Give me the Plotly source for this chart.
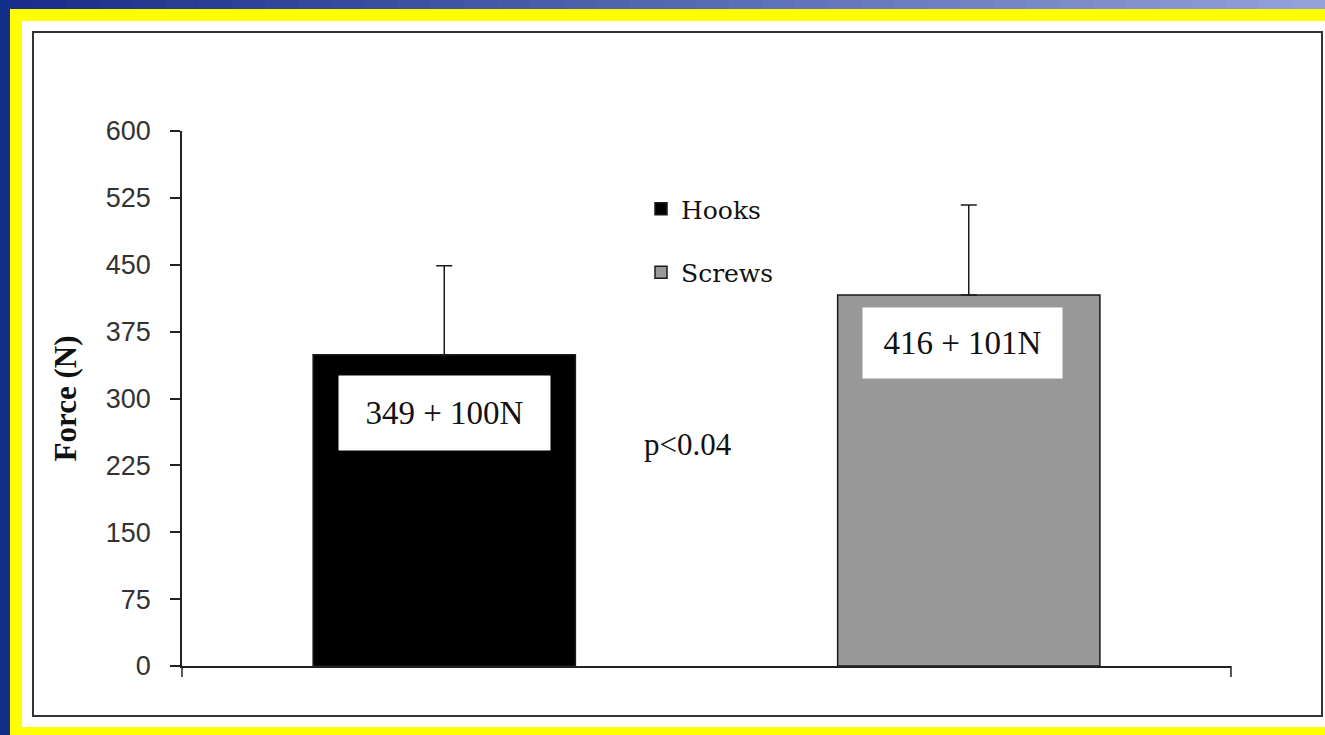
import plotly.graph_objects as go

categories = ["Hooks", "Screws"]
force_mean = [349, 416]
force_sd = [100, 101]
bar_colors = ["#000000", "#999999"]
y_ticks = [0, 75, 150, 225, 300, 375, 450, 525, 600]
p_text = "p<0.04"

W, H = 1325, 735
L, R, T, B = 182, 1231, 131, 666  # plot area pixels


def px(x):
    return (x - L) / (R - L)


def py(y):
    return (B - y) / (B - T)


fig = go.Figure()
for cat, m, sd, col in zip(categories, force_mean, force_sd, bar_colors):
    fig.add_trace(go.Bar(
        x=[cat], y=[m], name=cat, width=0.5,
        marker=dict(color=col, line=dict(color="#1a1a1a", width=1.5)),
        error_y=dict(type="data", array=[sd], arrayminus=[0], symmetric=False,
                     color="#1a1a1a", thickness=1.5, width=8),
        legendgroup=cat,
    ))

shapes = []
# blue gradient top band
c0 = (24, 46, 138)
c1 = (146, 161, 216)
n = 40
for i in range(n):
    t = i / (n - 1)
    col = tuple(int(c0[k] + (c1[k] - c0[k]) * t) for k in range(3))
    x0 = i * W / n
    x1 = (i + 1) * W / n + 1
    shapes.append(dict(type="rect", xref="paper", yref="paper", x0=px(x0), x1=px(x1),
                       y0=py(0), y1=py(9.5), line=dict(width=0),
                       fillcolor="rgb(%d,%d,%d)" % col, layer="below"))
# left blue band
shapes.append(dict(type="rect", xref="paper", yref="paper", x0=px(0), x1=px(10.5),
                   y0=py(0), y1=py(H), line=dict(width=0), fillcolor="#12308a", layer="below"))
# yellow border
shapes.append(dict(type="rect", xref="paper", yref="paper", x0=px(10), x1=px(W + 2),
                   y0=py(9), y1=py(H + 2), line=dict(width=0), fillcolor="#ffff00", layer="below"))
# white panel
shapes.append(dict(type="rect", xref="paper", yref="paper", x0=px(22), x1=px(W + 2),
                   y0=py(21), y1=py(727), line=dict(width=0), fillcolor="#ffffff", layer="below"))
# chart frame
shapes.append(dict(type="rect", xref="paper", yref="paper", x0=px(33), x1=px(1322),
                   y0=py(32), y1=py(716), line=dict(width=2, color="#333333"),
                   fillcolor="rgba(0,0,0,0)", layer="below"))
# x-axis end ticks
for xe in (0, 1):
    shapes.append(dict(type="line", xref="paper", yref="paper", x0=xe, x1=xe,
                       y0=0, y1=py(B + 11), line=dict(width=1.5, color="#222222")))

annotations = []
box_w = [211, 199]
box_h = [74, 70]
box_off = [65, 54]
xshift = [0, -6]
for i, (cat, m, sd) in enumerate(zip(categories, force_mean, force_sd)):
    annotations.append(dict(
        x=cat, y=m - box_off[i], xref="x", yref="y", showarrow=False,
        text=f"{m} + {sd}N", font=dict(family="Liberation Serif", size=33, color="#111111"),
        bgcolor="#ffffff", width=box_w[i], height=box_h[i], borderpad=0,
        xanchor="center", yanchor="middle", xshift=xshift[i],
    ))
annotations.append(dict(
    x=px(688), y=py(445), xref="paper", yref="paper", showarrow=False,
    text=p_text, font=dict(family="Liberation Serif", size=31, color="#111111"),
    xanchor="center", yanchor="middle",
))

fig.update_layout(
    width=W, height=H,
    margin=dict(l=L, r=W - R, t=T, b=H - B, pad=0),
    paper_bgcolor="#12308a", plot_bgcolor="rgba(0,0,0,0)",
    barmode="overlay", showlegend=True,
    legend=dict(x=px(641), y=py(186), xanchor="left", yanchor="top",
                font=dict(family="DejaVu Serif", size=25, color="#111111"),
                bgcolor="rgba(0,0,0,0)", tracegroupgap=28, traceorder="grouped"),
    shapes=shapes, annotations=annotations,
    xaxis=dict(showline=True, linecolor="#222222", linewidth=1.5, showticklabels=False,
               ticks="", showgrid=False, zeroline=False, range=[-0.5, 1.5]),
    yaxis=dict(range=[0, 600], tickvals=y_ticks, ticks="outside", ticklen=10, tickwidth=1.5,
               tickcolor="#222222", showline=True, linecolor="#222222", linewidth=1.5,
               showgrid=False, zeroline=False, ticklabelstandoff=14,
               tickfont=dict(family="Liberation Sans", size=27, color="#333333"),
               title=dict(text="<b>Force (N)</b>", standoff=20,
                          font=dict(family="Liberation Serif", size=31, color="#111111"))),
)

fig.write_html("out.html", config={"displayModeBar": False},
               post_script="document.body.style.margin='0px';")
